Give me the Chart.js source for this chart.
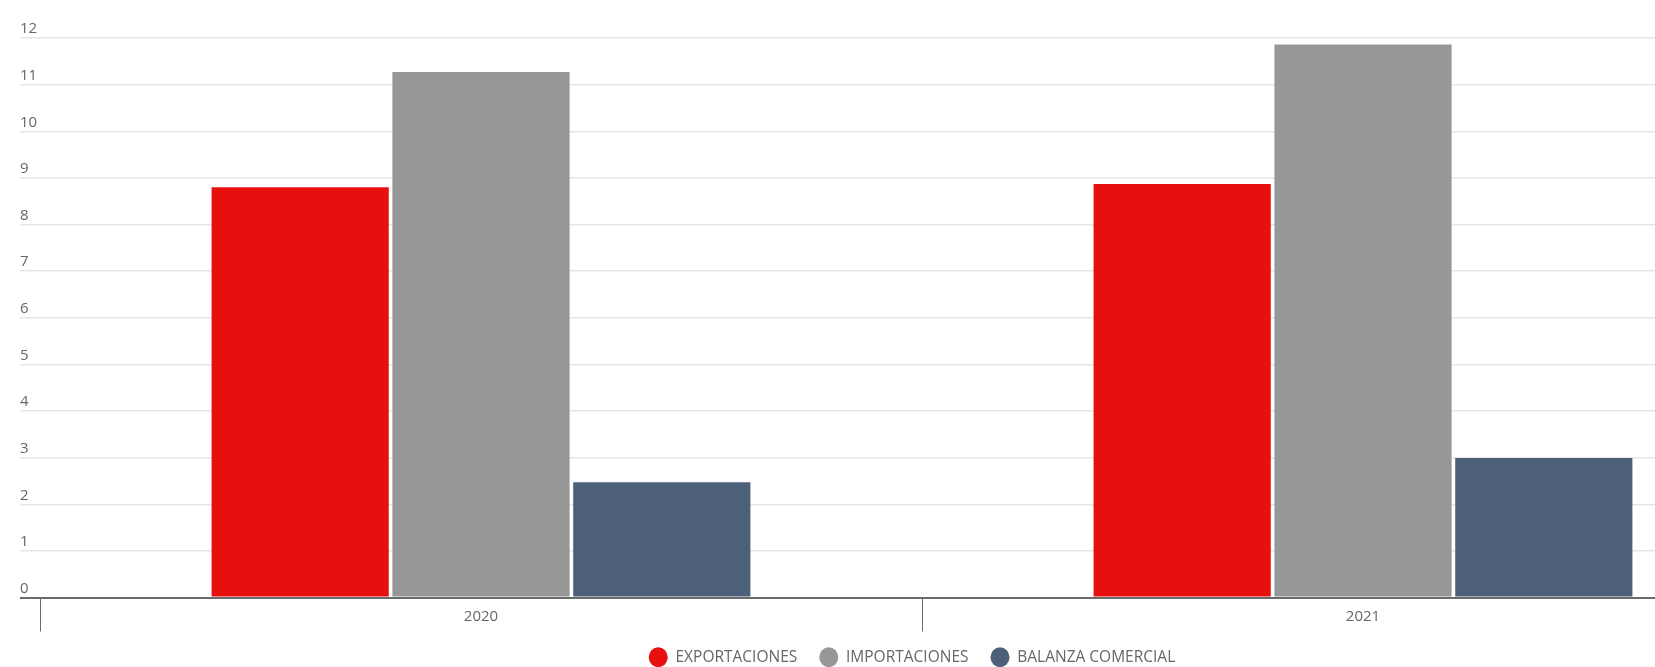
<!DOCTYPE html>
<html>
<head>
<meta charset="utf-8">
<script src="https://cdn.jsdelivr.net/npm/chart.js@4.4.1/dist/chart.umd.min.js"></script>
<style>
    html, body { margin: 0; padding: 0; background: #fff; overflow: hidden; }
    #wrap { width: 1655px; height: 667px; overflow: hidden; }
</style>
</head>
<body>
<div id="wrap">
    <canvas id="tradeChart" width="1814" height="667"></canvas>
</div>
<script>
// datos del gráfico
const years = ['2020', '2021'];
const exportaciones = [8.80, 8.87];
const importaciones = [11.27, 11.86];
const balanza = [2.47, 2.99];

const COLORS = {
    RED: '#e8100f',
    GRAY: '#979797',
    BLUE: '#4c6179',
    GRID: '#e6e6e6',
    AXIS: '#6b6b6b',
    TEXT: '#666666'
};

const FONT = "'Open Sans', 'DejaVu Sans', sans-serif";

const ctx = document.getElementById('tradeChart');

new Chart(ctx, {
    type: 'bar',
    data: {
        labels: years,
        datasets: [
            { label: 'EXPORTACIONES', data: exportaciones, backgroundColor: COLORS.RED },
            { label: 'IMPORTACIONES', data: importaciones, backgroundColor: COLORS.GRAY },
            { label: 'BALANZA COMERCIAL', data: balanza, backgroundColor: COLORS.BLUE }
        ]
    },
    options: {
        responsive: false,
        animation: false,
        layout: {
            padding: { top: 38, left: 20, right: 10, bottom: -8 }
        },
        datasets: {
            bar: {
                categoryPercentage: 0.615,
                barPercentage: 0.98
            }
        },
        plugins: {
            tooltip: { enabled: false },
            legend: {
                position: 'bottom',
                labels: {
                    usePointStyle: true,
                    pointStyle: 'circle',
                    pointStyleWidth: 19,
                    boxHeight: 14,
                    padding: 22,
                    color: COLORS.TEXT,
                    font: { family: FONT, size: 15.5 }
                }
            }
        },
        scales: {
            x: {
                grid: {
                    drawOnChartArea: false,
                    tickLength: 34,
                    color: COLORS.AXIS,
                    lineWidth: 1
                },
                border: { color: COLORS.AXIS, width: 2 },
                ticks: {
                    padding: -24,
                    color: COLORS.TEXT,
                    font: { family: FONT, size: 15 }
                },
                afterFit: scale => { scale.height = 30; }
            },
            y: {
                min: 0,
                max: 12,
                ticks: {
                    stepSize: 1,
                    crossAlign: 'far',
                    padding: 0,
                    labelOffset: -9,
                    color: COLORS.TEXT,
                    font: { family: FONT, size: 15 }
                },
                grid: {
                    tickLength: 20,
                    color: c => (c.tick && c.tick.value === 0) ? COLORS.AXIS : COLORS.GRID,
                    lineWidth: c => (c.tick && c.tick.value === 0) ? 2 : 1.5
                },
                border: { display: false },
                afterFit: scale => { scale.width = 20; }
            }
        }
    }
});
</script>
</body>
</html>
